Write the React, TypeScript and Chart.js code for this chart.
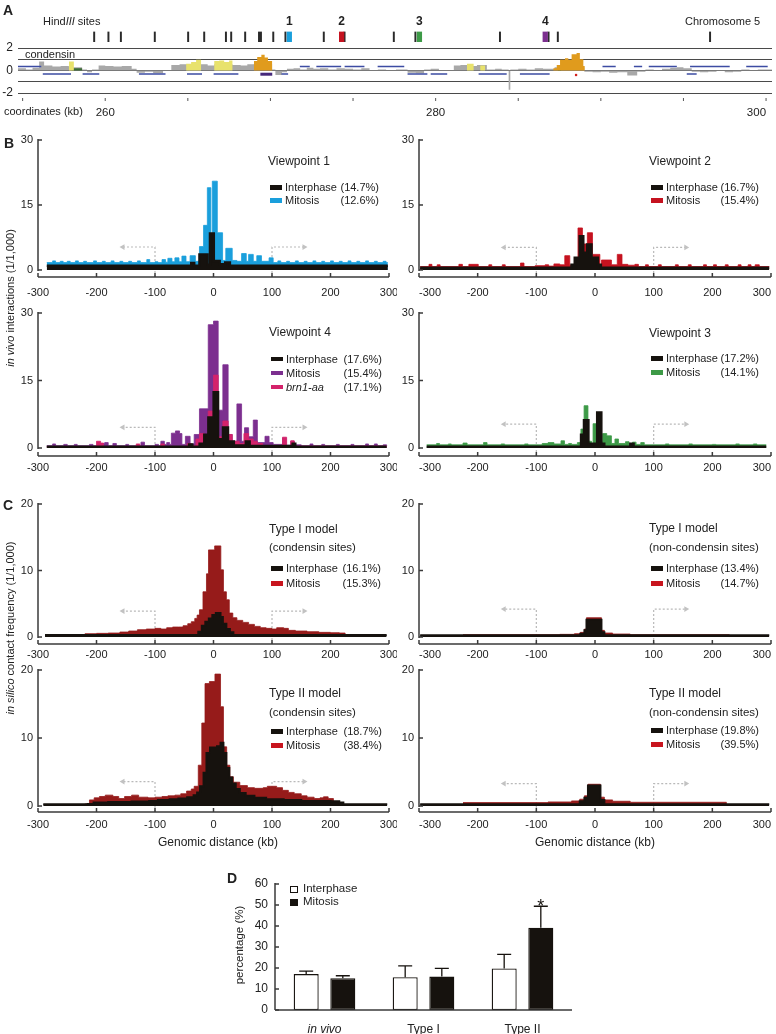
import React, { useEffect, useRef } from 'react';
import { Chart, registerables } from 'chart.js';

Chart.register(...registerables);

type Pair = [number, number];
type Seg = [number, number];

const FONT = '"Liberation Sans", Arial, Helvetica, sans-serif';
const INK = '#16120e';
const AXIS = '#3a3a3a';
const BRACKET = '#b9b9b9';
const BLUE = '#1a9fdc';
const RED = '#c5121f';
const PURPLE = '#7c2f8f';
const MAGENTA = '#d4236b';
const GREEN = '#3d9a47';
const CRED = '#961b1a';
const CRED_KEY = '#c8141e';

// ---------------- Panel A ----------------
const coordLabels = [260, 280, 300];
const trackYLabels = [2, 0, -2];
const hindIIISites = [255.66, 256.69, 257.59, 260.04, 262.45, 263.61, 265.18, 265.56, 266.57, 267.57, 267.71, 268.6, 269.48, 272.25, 273.75, 277.31, 278.87, 284.98, 288.49, 289.16, 300.16];
const viewpointSites = [269.76, 273.54, 279.16, 288.25];
const viewpointNames = ['1', '2', '3', '4'];
const viewpointColors = [BLUE, RED, GREEN, PURPLE];

const condensinGray: Pair[] = [[254.72,0.2],[255.2,0.1],[255.6,0.25],[256.0,0.8],[256.3,0.45],[256.8,0.35],[257.3,0.4],[257.8,0.3],[258.6,0.1],[258.9,-0.15],[259.2,0.1],[259.6,0.45],[260.0,0.4],[260.5,0.35],[261.0,0.4],[261.6,0.15],[261.9,-0.2],[262.4,-0.1],[262.9,-0.25],[263.5,0.05],[264.0,0.5],[264.5,0.55],[265.8,0.55],[266.2,0.45],[266.6,0.55],[267.7,0.5],[268.2,0.45],[268.6,0.55],[269.0,0.6],[270.1,0.1],[270.3,-0.4],[270.7,-0.15],[271.0,0.15],[271.4,0.2],[271.8,0.1],[272.2,0.25],[272.6,0.15],[273.0,0.2],[273.5,0.1],[274.0,0.2],[274.5,0.15],[275.0,0.1],[275.5,0.2],[276.0,0.05],[276.5,0.1],[277.0,0.05],[277.6,0.1],[278.3,-0.2],[278.8,-0.25],[279.3,0.1],[279.7,0.15],[280.2,0.05],[281.1,0.45],[281.5,0.5],[282.0,0.4],[282.5,0.5],[283.1,0.1],[283.6,0.15],[284.0,0.1],[284.42,-1.7],[284.52,0.1],[285.0,0.15],[285.5,0.1],[286.0,0.2],[286.5,0.15],[287.2,0.3],[289.0,-0.1],[289.5,-0.15],[290.0,-0.1],[290.5,-0.2],[291.0,-0.15],[291.6,-0.45],[292.2,-0.1],[292.7,0.1],[293.2,0.05],[293.7,0.15],[294.2,0.25],[294.6,0.3],[295.0,0.2],[295.5,-0.1],[296.0,-0.15],[296.5,-0.1],[297.0,-0.05],[297.5,-0.15],[298.0,-0.1],[298.5,0.1],[299.0,-0.05],[299.5,0.1],[300.36,0.1]];
const condensinYellow: Pair[] = [[257.8,0.8],[258.1,0],[264.9,0.6],[265.2,0.75],[265.5,0.95],[265.8,0],[266.6,0.85],[266.9,0.9],[267.2,0.75],[267.5,0.9],[267.7,0],[281.9,0.6],[282.3,0],[282.7,0.45],[283.0,0]];
const condensinOrange: Pair[] = [[269.0,0.85],[269.2,1.2],[269.45,1.4],[269.65,1.15],[269.85,0.85],[270.1,0],[287.13,0.2],[287.33,0.5],[287.53,0.95],[287.83,1.1],[288.03,0.95],[288.23,1.45],[288.53,1.55],[288.73,1.0],[288.94,0.4],[289.03,0]];
const condensinGreen: Pair[] = [[257.95,0.2],[258.6,0],[287.4,0.12],[287.6,0]];
const bindingUpper: Seg[] = [[254.72,256.13],[271.78,272.38],[272.78,274.28],[274.49,275.69],[276.49,278.1],[290.1,290.9],[292.0,292.5],[292.9,294.6],[295.4,297.8],[298.8,300.1]];
const bindingLower: Seg[] = [[256.22,257.93],[258.63,259.64],[262.04,263.65],[264.95,265.86],[266.56,268.06],[270.67,271.07],[278.3,279.5],[279.7,280.7],[282.6,284.3],[285.1,286.9],[295.2,295.8]];
const bindingPurple: Seg[] = [[269.39, 270.11]];
const bindingRed: Pair[] = [[288.5, -0.4]];

// ---------------- Panel B ----------------
const vp1Mitosis: Pair[] = [[-285,1.7],[-275,2.1],[-270,1.7],[-262,2.0],[-257,1.7],[-250,2.0],[-245,1.7],[-236,2.1],[-231,1.7],[-222,2.0],[-217,1.7],[-205,2.1],[-200,1.7],[-190,2.0],[-185,1.7],[-175,2.1],[-170,1.7],[-160,2.0],[-155,1.7],[-145,2.0],[-140,1.7],[-130,2.1],[-125,1.7],[-114,2.4],[-109,1.7],[-100,1.9],[-95,1.7],[-88,2.4],[-82,1.8],[-78,2.7],[-71,1.9],[-66,2.8],[-59,1.9],[-54,3.2],[-47,1.9],[-40,3.3],[-31,2.0],[-24,5.4],[-17,10.3],[-10.5,19.0],[-4.5,7.0],[-2,20.5],[6.5,8.6],[15.5,2.2],[21,5.0],[32,2.2],[40,2.0],[48,3.8],[56,2.0],[60,3.6],[68,2.0],[74,3.3],[82,2.0],[95,2.8],[102,1.7],[110,2.1],[115,1.7],[125,2.0],[130,1.7],[140,2.1],[145,1.7],[155,2.0],[160,1.7],[170,2.1],[175,1.7],[185,2.0],[190,1.7],[200,2.1],[205,1.7],[215,2.0],[220,1.7],[230,2.1],[235,1.7],[245,2.0],[250,1.7],[260,2.1],[265,1.7],[275,2.0],[280,1.7],[290,2.0],[295,1.7],[298,1.7]];
const vp1Interphase: Pair[] = [[-285,1.0],[-38,1.6],[-33,1.0],[-24,3.6],[-10.5,1.2],[-6,8.4],[0.5,2.1],[10.5,1.3],[20,1.7],[28,1.0],[298,1.0]];
const vp2Mitosis: Pair[] = [[-298,0.8],[-283,1.3],[-278,0.8],[-269,1.2],[-264,0.8],[-232,1.3],[-226,0.8],[-215,1.3],[-199,0.8],[-181,1.2],[-176,0.8],[-158,1.2],[-153,0.8],[-127,1.6],[-121,0.8],[-102,1.0],[-85,1.2],[-79,0.9],[-70,1.4],[-60,1.2],[-51.5,3.3],[-43,1.1],[-34,1.5],[-29,9.7],[-21.4,6.0],[-13,8.6],[-4.3,3.6],[8.3,1.2],[11,2.3],[28,1.2],[38,3.6],[46,1.3],[56,1.1],[68,1.3],[74,0.8],[86,1.2],[91,0.8],[108,1.2],[113,0.8],[137,1.2],[142,0.8],[159,1.2],[164,0.8],[185,1.2],[190,0.8],[202,1.2],[207,0.8],[222,1.2],[227,0.8],[244,1.2],[249,0.8],[261,1.2],[266,0.8],[273,1.2],[280,0.8],[297,0.8]];
const vp2Interphase: Pair[] = [[-298,0.5],[-40,1.2],[-34.5,2.8],[-26,7.8],[-20,4.0],[-13.5,5.9],[-6,2.8],[5,1.2],[10,0.5],[297,0.5]];
const vp4Mitosis: Pair[] = [[-285,0.5],[-275,0.9],[-270,0.5],[-256,0.8],[-250,0.5],[-238,0.8],[-233,0.5],[-212,0.8],[-206,0.5],[-192,1.0],[-186,1.2],[-180,0.5],[-172,1.0],[-166,0.5],[-150,0.8],[-145,0.5],[-124,1.3],[-118,0.5],[-100,0.8],[-94,0.5],[-90,1.5],[-84,0.8],[-80,1.2],[-75,0.8],[-72,3.3],[-65,3.8],[-58,3.2],[-54,0.8],[-48,2.6],[-40,0.9],[-33,3.0],[-24,8.7],[-9,27.4],[0,28.2],[8,8.4],[16,18.5],[25,3.0],[32,1.5],[40,9.8],[48,1.5],[53,4.5],[60,2.5],[68,6.2],[75,1.2],[88,2.6],[95,1.2],[102,0.8],[118,2.2],[124,0.6],[132,1.5],[138,0.7],[150,0.5],[165,0.9],[170,0.5],[185,0.8],[190,0.5],[210,0.8],[215,0.5],[235,0.8],[240,0.5],[260,0.9],[265,0.5],[275,0.9],[280,0.5],[290,0.7],[296,0.5]];
const vp4Brn1: Pair[] = [[-285,0.3],[-200,1.5],[-193,1.1],[-188,0.3],[-132,0.9],[-126,0.3],[-90,0.9],[-84,0.3],[-45,1.0],[-38,0.5],[-30,2.0],[-24,3.2],[-16,1.0],[-9,8.2],[0,16.2],[8,2.5],[16,6.0],[25,3.0],[32,1.5],[44,1.0],[52,3.2],[60,2.0],[68,1.5],[75,1.0],[84,0.4],[118,2.4],[125,0.4],[132,1.6],[138,0.4],[296,0.4]];
const vp4Interphase: Pair[] = [[-285,0.3],[-42,0.8],[-36,0.3],[-24,1.0],[-16,3.0],[-9,6.8],[0,12.4],[8,2.0],[16,4.6],[25,1.5],[35,0.6],[55,1.5],[62,0.5],[135,1.0],[140,0.3],[296,0.3]];
const vp3Mitosis: Pair[] = [[-287,0.7],[-270,1.0],[-265,0.7],[-250,0.9],[-245,0.7],[-225,1.1],[-218,0.7],[-190,1.2],[-184,0.7],[-160,0.9],[-154,0.7],[-120,0.9],[-114,0.7],[-90,1.0],[-80,1.2],[-70,0.9],[-58,1.6],[-52,0.8],[-45,1.0],[-40,0.8],[-30,1.2],[-24,4.2],[-18.6,9.4],[-12,1.5],[-6,1.0],[-3.3,5.4],[3.5,1.5],[13,3.2],[20,2.7],[28,1.0],[34,2.0],[40,1.0],[52,1.4],[58,1.0],[64,1.3],[70,0.8],[78,1.2],[84,0.7],[120,0.9],[126,0.7],[160,0.9],[166,0.7],[200,0.8],[206,0.7],[240,0.9],[246,0.7],[270,0.9],[276,0.7],[292,0.7]];
const vp3Interphase: Pair[] = [[-287,0.3],[-24,3.0],[-19,6.2],[-11,1.0],[3.5,7.9],[11,1.0],[16,0.3],[60,1.0],[66,0.3],[292,0.3]];

// ---------------- Panel C ----------------
const typeICondMitosis: Pair[] = [[-220,0.5],[-200,0.55],[-180,0.6],[-160,0.75],[-145,0.9],[-130,1.1],[-115,1.2],[-100,1.3],[-90,1.2],[-80,1.4],[-70,1.5],[-60,1.5],[-52,1.7],[-44,2.0],[-38,2.3],[-32,2.8],[-28,3.3],[-24,4.1],[-18,6.8],[-12,9.5],[-8.5,13.1],[2,13.7],[12.5,10.1],[17,6.8],[22,5.6],[27,3.6],[33,2.9],[40,2.5],[50,2.2],[60,1.9],[70,1.6],[80,1.4],[90,1.3],[100,1.2],[108,1.4],[120,1.3],[128,1.0],[140,0.9],[160,0.8],[180,0.7],[200,0.65],[215,0.6],[225,0]];
const typeICondInterphase: Pair[] = [[-288,0.3],[-26,0.8],[-20,1.7],[-14,2.3],[-8,2.8],[-2,3.3],[4,3.6],[12,3.0],[16,2.0],[22,1.2],[28,0.7],[34,0.3],[296,0.3]];
const typeINonMitosis: Pair[] = [[-225,0.35],[-60,0.4],[-35,0.5],[-25,0.7],[-18,1.2],[-14.5,2.9],[11,1.0],[16,0.6],[30,0.45],[60,0.35],[229,0]];
const typeINonInterphase: Pair[] = [[-298,0.25],[-25,0.5],[-18,1.0],[-14.5,2.6],[11,0.7],[16,0.25],[297,0.25]];
const typeIICondMitosis: Pair[] = [[-220,0.3],[-212,0.9],[-204,1.2],[-195,1.4],[-185,1.6],[-172,1.4],[-162,1.1],[-152,1.4],[-140,1.6],[-128,1.3],[-112,1.2],[-100,1.3],[-88,1.4],[-78,1.5],[-66,1.6],[-56,1.8],[-46,2.2],[-38,2.5],[-33,2.9],[-26,6.0],[-20,12.2],[-14.5,18.0],[-7,18.3],[2.5,19.4],[12,14.6],[17,8.7],[22.5,6.0],[28,4.3],[34,3.5],[45,3.0],[58,2.7],[70,2.6],[85,2.7],[92,2.9],[108,2.7],[118,2.3],[128,2.0],[138,1.8],[150,1.5],[160,1.3],[172,1.1],[182,1.2],[188,1.35],[196,1.1],[205,0.6],[213,0.2],[222,0]];
const typeIICondInterphase: Pair[] = [[-291,0.25],[-215,0.3],[-205,0.5],[-180,0.6],[-140,0.65],[-110,0.75],[-95,0.9],[-75,1.0],[-60,1.1],[-45,1.3],[-34,1.6],[-28,2.0],[-23,2.9],[-17,4.9],[-12,7.8],[-6,8.6],[6,8.8],[12,9.3],[17,7.8],[22,5.6],[27,4.2],[32,3.3],[38,2.5],[45,1.9],[55,1.5],[70,1.2],[90,1.0],[120,0.9],[150,0.75],[200,0.7],[215,0.5],[222,0.25],[297,0.25]];
const typeIINonMitosis: Pair[] = [[-225,0.5],[-80,0.6],[-40,0.75],[-26,1.0],[-18,1.5],[-12,3.2],[9.3,1.3],[16,0.9],[30,0.7],[60,0.55],[224,0]];
const typeIINonInterphase: Pair[] = [[-298,0.25],[-26,0.7],[-18,1.2],[-12,3.0],[9.3,0.9],[16,0.25],[297,0.25]];

// ---------------- Panel D ----------------
const dCategories = ['in vivo', 'Type I', 'Type II'];
const dInterphase = [17.1, 15.6, 19.8];
const dInterphaseErr = [1.4, 5.4, 6.7];
const dMitosis = [15.1, 15.9, 39.2];
const dMitosisErr = [1.2, 3.9, 10.2];

// ---------------- plugins ----------------
const framePlugin = {
  id: 'frame',
  afterDatasetsDraw(chart: any, _args: any, opts: any) {
    const { ctx, chartArea: a, scales } = chart;
    const xs = scales.x;
    const ys = scales.y;
    ctx.save();
    ctx.strokeStyle = AXIS;
    ctx.lineWidth = 1.5;
    const tl = 4;
    if (opts.yAxis) {
      const top = ys.getPixelForValue(ys.max) - 1;
      const bot = opts.yEnd != null ? ys.getPixelForValue(opts.yEnd) + 1 : a.bottom;
      ctx.beginPath();
      ctx.moveTo(a.left, top);
      ctx.lineTo(a.left, bot);
      ctx.stroke();
      ys.ticks.forEach((t: any) => {
        const p = ys.getPixelForValue(t.value);
        ctx.beginPath();
        ctx.moveTo(a.left, p);
        ctx.lineTo(a.left + tl, p);
        ctx.stroke();
      });
    }
    if (opts.xAxis) {
      ctx.beginPath();
      ctx.moveTo(a.left, a.bottom);
      ctx.lineTo(a.right, a.bottom);
      ctx.stroke();
      if (opts.xTicks) {
        xs.ticks.forEach((t: any) => {
          const p = xs.getPixelForValue(t.value);
          ctx.beginPath();
          ctx.moveTo(p, a.bottom);
          ctx.lineTo(p, a.bottom - tl);
          ctx.stroke();
        });
      }
    }
    if (opts.xMarks) {
      ctx.lineWidth = 1;
      ctx.strokeStyle = '#555';
      xs.ticks.forEach((t: any) => {
        const p = xs.getPixelForValue(t.value);
        ctx.beginPath();
        ctx.moveTo(p, a.bottom + 5);
        ctx.lineTo(p, a.bottom + 8);
        ctx.stroke();
      });
    }
    ctx.restore();
  },
};

const siteLabelPlugin = {
  id: 'siteLabels',
  afterDatasetsDraw(chart: any) {
    const { ctx, chartArea, scales } = chart;
    ctx.save();
    ctx.font = `bold 12px ${FONT}`;
    ctx.fillStyle = '#222';
    ctx.textAlign = 'center';
    ctx.textBaseline = 'middle';
    viewpointSites.forEach((kb, i) => {
      ctx.fillText(viewpointNames[i], scales.x.getPixelForValue(kb), chartArea.top - 10);
    });
    ctx.restore();
  },
};

const errorBarPlugin = {
  id: 'errorBars',
  afterDatasetsDraw(chart: any, _args: any, opts: any) {
    const ys = chart.scales.y;
    const ctx = chart.ctx;
    const errs: number[][] = opts.errors;
    ctx.save();
    ctx.strokeStyle = INK;
    ctx.lineWidth = 1.3;
    chart.data.datasets.forEach((ds: any, i: number) => {
      const meta = chart.getDatasetMeta(i);
      meta.data.forEach((bar: any, j: number) => {
        const top = ys.getPixelForValue(ds.data[j] + errs[i][j]);
        ctx.beginPath();
        ctx.moveTo(bar.x, bar.y);
        ctx.lineTo(bar.x, top);
        ctx.moveTo(bar.x - 7, top);
        ctx.lineTo(bar.x + 7, top);
        ctx.stroke();
      });
    });
    const m = opts.mark;
    if (m) {
      const bar = chart.getDatasetMeta(m.dataset).data[m.index];
      const v = chart.data.datasets[m.dataset].data[m.index] + errs[m.dataset][m.index];
      ctx.fillStyle = INK;
      ctx.font = `18px ${FONT}`;
      ctx.textAlign = 'center';
      ctx.textBaseline = 'alphabetic';
      ctx.fillText(m.text, bar.x, ys.getPixelForValue(v) + 6);
    }
    ctx.restore();
  },
};

// ---------------- builders ----------------
const xy = (pairs: Pair[]) => pairs.map(([x, y]) => ({ x, y }));
const segData = (segs: Seg[], y: number) => {
  const out: any[] = [];
  segs.forEach(([a, b]) => {
    out.push({ x: a, y }, { x: b, y }, { x: b, y: null });
  });
  return out;
};

// each pair = [left edge of a bin, value held until the next pair]
const stepArea = (pairs: Pair[], color: string, order: number, border = 0.8) => ({
  type: 'line',
  data: xy(pairs),
  stepped: 'before',
  fill: 'origin',
  backgroundColor: color,
  borderColor: color,
  borderWidth: border,
  pointRadius: 0,
  order,
});

const bracketSet = (side: number, h: number, ymin: number) => ({
  type: 'line',
  data: [
    { x: side * 100, y: ymin },
    { x: side * 100, y: h },
    { x: side * 155, y: h },
  ],
  borderColor: BRACKET,
  borderDash: [2, 2],
  borderWidth: 1.2,
  fill: false,
  stepped: false,
  pointRadius: [0, 0, 3.3],
  pointStyle: 'triangle',
  pointRotation: side < 0 ? -90 : 90,
  pointBackgroundColor: '#c2c2c2',
  pointBorderWidth: 0,
  order: 20,
});

const tickFont = (size: number) => ({ family: FONT, size });

type Series = { d: Pair[]; c: string; w?: number };
type Geo = { L: number; R: number; T: number; B: number; ymin: number; ymax: number; step: number; xPad: number; align: string; h: number; series: Series[] };

const PROFILES: Geo[] = [
  { L: 38, R: 389, T: 140, B: 277, ymin: -1.62, ymax: 30, step: 15, xPad: 9, align: 'center', h: 5.3, series: [{ d: vp1Mitosis, c: BLUE }, { d: vp1Interphase, c: INK, w: 2.5 }] },
  { L: 419, R: 771, T: 140, B: 277, ymin: -1.62, ymax: 30, step: 15, xPad: 9, align: 'inner', h: 5.2, series: [{ d: vp2Mitosis, c: RED }, { d: vp2Interphase, c: INK, w: 2.5 }] },
  { L: 38, R: 389, T: 313, B: 456, ymin: -1.78, ymax: 30, step: 15, xPad: 5, align: 'center', h: 4.6, series: [{ d: vp4Mitosis, c: PURPLE }, { d: vp4Brn1, c: MAGENTA }, { d: vp4Interphase, c: INK, w: 2.2 }] },
  { L: 419, R: 771, T: 313, B: 456, ymin: -1.78, ymax: 30, step: 15, xPad: 5, align: 'inner', h: 5.3, series: [{ d: vp3Mitosis, c: GREEN }, { d: vp3Interphase, c: INK, w: 2.2 }] },
  { L: 38, R: 389, T: 504, B: 644, ymin: -1.05, ymax: 20, step: 10, xPad: 4, align: 'center', h: 3.9, series: [{ d: typeICondMitosis, c: CRED }, { d: typeICondInterphase, c: INK, w: 2 }] },
  { L: 419, R: 771, T: 504, B: 644, ymin: -1.05, ymax: 20, step: 10, xPad: 4, align: 'inner', h: 4.2, series: [{ d: typeINonMitosis, c: CRED }, { d: typeINonInterphase, c: INK, w: 2 }] },
  { L: 38, R: 389, T: 670, B: 812, ymin: -0.88, ymax: 20, step: 10, xPad: 6.5, align: 'center', h: 3.6, series: [{ d: typeIICondMitosis, c: CRED }, { d: typeIICondInterphase, c: INK, w: 2 }] },
  { L: 419, R: 771, T: 670, B: 812, ymin: -0.88, ymax: 20, step: 10, xPad: 6.5, align: 'inner', h: 3.3, series: [{ d: typeIINonMitosis, c: CRED }, { d: typeIINonInterphase, c: INK, w: 2 }] },
];

const baseOptions = (padding: any) => ({
  animation: false,
  responsive: false,
  maintainAspectRatio: false,
  devicePixelRatio: 1,
  layout: { padding },
  plugins: { legend: { display: false }, tooltip: { enabled: false } },
  elements: { point: { radius: 0 }, line: { tension: 0 } },
});

function profileChart(g: Geo) {
  const n = g.series.length;
  const datasets: any[] = g.series.map((s, i) => stepArea(s.d, s.c, n - i, s.w ?? 0.8));
  datasets.push(bracketSet(-1, g.h, g.ymin), bracketSet(1, g.h, g.ymin));
  const opts: any = baseOptions({ left: 0, top: 8, right: 8, bottom: 0 });
  opts.plugins.frame = { yAxis: true, yEnd: 0, xAxis: true, xTicks: true };
  opts.scales = {
    x: {
      type: 'linear', min: -300, max: 300,
      ticks: { stepSize: 100, autoSkip: false, maxRotation: 0, padding: g.xPad, align: g.align, font: tickFont(11), color: '#222' },
      grid: { display: false, drawTicks: false }, border: { display: false },
      afterFit: (s: any) => { s.height = 30; s.paddingLeft = 0; s.paddingRight = 0; },
    },
    y: {
      type: 'linear', min: g.ymin, max: g.ymax,
      ticks: { stepSize: g.step, includeBounds: false, autoSkip: false, padding: 5, font: tickFont(11), color: '#222' },
      grid: { display: false, drawTicks: false }, border: { display: false },
      afterFit: (s: any) => { s.width = 40; s.paddingTop = 0; s.paddingBottom = 0; },
    },
  };
  return {
    x: g.L - 40, y: g.T - 8, w: g.R - g.L + 48, h: g.B - g.T + 38,
    config: () => ({ type: 'line', data: { datasets }, options: opts, plugins: [framePlugin] }),
  };
}

const TRACK_MIN = 254.72;
const TRACK_MAX = 300.36;

const sitesChart = {
  x: 0, y: 14, w: 776, h: 28,
  config: () => {
    const opts: any = baseOptions({ left: 18, top: 17.5, right: 0, bottom: 0 });
    opts.scales = {
      x: { type: 'linear', display: false, min: TRACK_MIN, max: TRACK_MAX },
      y: { display: false, min: 0, max: 1 },
    };
    return {
      type: 'bar',
      data: {
        datasets: [
          { data: hindIIISites.map((x) => ({ x, y: [0, 1] })), backgroundColor: '#2a2a2a', barThickness: 1.3, grouped: false, order: 1 },
          { data: viewpointSites.map((x) => ({ x, y: [0, 1] })), backgroundColor: viewpointColors, barThickness: 4.6, grouped: false, order: 0 },
        ],
      },
      options: opts,
      plugins: [siteLabelPlugin],
    };
  },
};

const trackChart = {
  x: 0, y: 42, w: 776, h: 76,
  config: () => {
    const opts: any = baseOptions({ left: 0, top: 6, right: 0, bottom: 0 });
    opts.plugins.frame = { xMarks: true };
    opts.scales = {
      x: {
        type: 'linear', min: TRACK_MIN, max: TRACK_MAX,
        ticks: {
          stepSize: 5, includeBounds: false, autoSkip: false, maxRotation: 0, align: 'inner', padding: 13,
          font: tickFont(11.5), color: '#222',
          callback: (v: any) => (coordLabels.includes(v) ? String(v) : ''),
        },
        grid: { display: false, drawTicks: false }, border: { display: false },
        afterFit: (s: any) => { s.height = 25; s.paddingLeft = 0; s.paddingRight = 0; },
      },
      y: {
        type: 'linear', min: -2, max: 2,
        ticks: { stepSize: 1, autoSkip: false, padding: 5, font: tickFont(12), color: '#222', callback: (v: any) => (trackYLabels.includes(v) ? String(v) : '') },
        grid: { color: '#4a4a4a', lineWidth: 1, drawTicks: false }, border: { display: false },
        afterFit: (s: any) => { s.width = 18; s.paddingTop = 0; s.paddingBottom = 0; },
      },
    };
    const datasets: any[] = [
      { type: 'line', data: segData(bindingPurple, -0.33), borderColor: '#45287a', borderWidth: 3, pointRadius: 0, fill: false, spanGaps: false, order: 0 },
      { type: 'line', data: xy(bindingRed), showLine: false, pointRadius: 1.6, pointStyle: 'rect', pointBackgroundColor: '#d3201e', pointBorderWidth: 0, order: 0 },
      { type: 'line', data: segData(bindingUpper, 0.36), borderColor: '#3d4ca3', borderWidth: 1.5, pointRadius: 0, fill: false, spanGaps: false, order: 1 },
      { type: 'line', data: segData(bindingLower, -0.3), borderColor: '#3d4ca3', borderWidth: 1.5, pointRadius: 0, fill: false, spanGaps: false, order: 1 },
      stepArea(condensinOrange, '#e09b1d', 2, 0),
      stepArea(condensinYellow, '#e8e26c', 3, 0),
      stepArea(condensinGreen, '#3b6b35', 3, 0),
      stepArea(condensinGray, '#a8a8a8', 4, 0),
    ];
    return { type: 'line', data: { datasets }, options: opts, plugins: [framePlugin] };
  },
};

const barChart = {
  x: 235, y: 878, w: 343, h: 162,
  config: () => {
    const opts: any = baseOptions({ left: 0, top: 6, right: 6, bottom: 0 });
    opts.plugins.frame = { yAxis: true, xAxis: true, xTicks: false };
    opts.plugins.errorBars = { errors: [dInterphaseErr, dMitosisErr], mark: { dataset: 1, index: 2, text: '*' } };
    opts.scales = {
      x: {
        type: 'category',
        ticks: {
          padding: 12, color: '#222',
          font: (c: any) => ({ family: FONT, size: 12, style: c.index === 0 ? 'italic' : 'normal' }),
        },
        grid: { display: false, drawTicks: false }, border: { display: false },
        afterFit: (s: any) => { s.height = 30; s.paddingLeft = 0; s.paddingRight = 0; },
      },
      y: {
        type: 'linear', min: 0, max: 60,
        ticks: { stepSize: 10, padding: 7, font: tickFont(12), color: '#222' },
        grid: { display: false, drawTicks: false }, border: { display: false },
        afterFit: (s: any) => { s.width = 40; s.paddingTop = 0; s.paddingBottom = 0; },
      },
    };
    const common = { borderColor: INK, borderWidth: 1.3, borderSkipped: false, categoryPercentage: 0.74, barPercentage: 0.683 };
    return {
      type: 'bar',
      data: {
        labels: dCategories,
        datasets: [
          { label: 'Interphase', data: dInterphase, backgroundColor: '#ffffff', ...common },
          { label: 'Mitosis', data: dMitosis, backgroundColor: INK, ...common },
        ],
      },
      options: opts,
      plugins: [framePlugin, errorBarPlugin],
    };
  },
};

const CHARTS = [sitesChart, trackChart, ...PROFILES.map(profileChart), barChart];

// ---------------- text helpers ----------------
function Txt(p: { x: number; y: number; size?: number; align?: 'left' | 'center' | 'right'; bold?: boolean; rotate?: boolean; children: React.ReactNode }) {
  const size = p.size ?? 11;
  const tx = p.align === 'center' ? '-50%' : p.align === 'right' ? '-100%' : '0';
  return (
    <div
      style={{
        position: 'absolute', left: p.x, top: p.y, fontSize: size, lineHeight: `${size}px`, whiteSpace: 'nowrap',
        fontWeight: p.bold ? 700 : 400,
        transform: p.rotate ? 'translate(-50%,-50%) rotate(-90deg)' : `translate(${tx},-50%)`,
      }}
    >
      {p.children}
    </div>
  );
}

type LegendRow = { y: number; color: string; name: React.ReactNode; pct: string };
type LegendSpec = { x: number; right: number; title: string; ty: number; sub?: string; sy?: number; rows: LegendRow[] };

const LEGENDS: LegendSpec[] = [
  { x: 268, right: 379, title: 'Viewpoint 1', ty: 161, rows: [{ y: 187, color: INK, name: 'Interphase', pct: '(14.7%)' }, { y: 200, color: BLUE, name: 'Mitosis', pct: '(12.6%)' }] },
  { x: 649, right: 759, title: 'Viewpoint 2', ty: 161, rows: [{ y: 187, color: INK, name: 'Interphase', pct: '(16.7%)' }, { y: 200, color: RED, name: 'Mitosis', pct: '(15.4%)' }] },
  { x: 269, right: 382, title: 'Viewpoint 4', ty: 332, rows: [{ y: 358.5, color: INK, name: 'Interphase', pct: '(17.6%)' }, { y: 372.5, color: PURPLE, name: 'Mitosis', pct: '(15.4%)' }, { y: 386.5, color: MAGENTA, name: <i>brn1-aa</i>, pct: '(17.1%)' }] },
  { x: 649, right: 759, title: 'Viewpoint 3', ty: 333, rows: [{ y: 358, color: INK, name: 'Interphase', pct: '(17.2%)' }, { y: 372, color: GREEN, name: 'Mitosis', pct: '(14.1%)' }] },
  { x: 269, right: 381, title: 'Type I model', ty: 529, sub: '(condensin sites)', sy: 548, rows: [{ y: 568, color: INK, name: 'Interphase', pct: '(16.1%)' }, { y: 583, color: CRED_KEY, name: 'Mitosis', pct: '(15.3%)' }] },
  { x: 649, right: 759, title: 'Type I model', ty: 528, sub: '(non-condensin sites)', sy: 548, rows: [{ y: 568, color: INK, name: 'Interphase', pct: '(13.4%)' }, { y: 583, color: CRED_KEY, name: 'Mitosis', pct: '(14.7%)' }] },
  { x: 269, right: 382, title: 'Type II model', ty: 693, sub: '(condensin sites)', sy: 713, rows: [{ y: 731, color: INK, name: 'Interphase', pct: '(18.7%)' }, { y: 745, color: CRED_KEY, name: 'Mitosis', pct: '(38.4%)' }] },
  { x: 649, right: 759, title: 'Type II model', ty: 693, sub: '(non-condensin sites)', sy: 713, rows: [{ y: 730, color: INK, name: 'Interphase', pct: '(19.8%)' }, { y: 744, color: CRED_KEY, name: 'Mitosis', pct: '(39.5%)' }] },
];

function Legend({ s }: { s: LegendSpec }) {
  return (
    <>
      <Txt x={s.x} y={s.ty} size={12}>{s.title}</Txt>
      {s.sub ? <Txt x={s.x} y={s.sy!} size={11.5}>{s.sub}</Txt> : null}
      {s.rows.map((r, i) => (
        <React.Fragment key={i}>
          <div style={{ position: 'absolute', left: s.x + 2, top: r.y - 2, width: 12, height: 4.5, background: r.color }} />
          <Txt x={s.x + 17} y={r.y}>{r.name}</Txt>
          <Txt x={s.right} y={r.y} align="right">{r.pct}</Txt>
        </React.Fragment>
      ))}
    </>
  );
}

export default function App() {
  const refs = useRef<(HTMLCanvasElement | null)[]>([]);
  useEffect(() => {
    const charts = CHARTS.map((c, i) => new Chart(refs.current[i] as HTMLCanvasElement, c.config() as any));
    return () => charts.forEach((c) => c.destroy());
  }, []);

  return (
    <div style={{ position: 'absolute', left: 0, top: 0, width: 776, height: 1034, overflow: 'hidden', background: '#fff', fontFamily: FONT, color: '#222' }}>
      {CHARTS.map((c, i) => (
        <canvas
          key={i}
          ref={(el) => { refs.current[i] = el; }}
          width={c.w}
          height={c.h}
          style={{ position: 'absolute', left: c.x, top: c.y, width: c.w, height: c.h }}
        />
      ))}

      {/* Panel A */}
      <Txt x={3} y={10} size={14} bold>A</Txt>
      <Txt x={43} y={21}>Hind<i>III</i> sites</Txt>
      <Txt x={685} y={21}>Chromosome 5</Txt>
      <Txt x={25} y={54}>condensin</Txt>
      <Txt x={4} y={111}>coordinates (kb)</Txt>

      {/* Panel B / C labels */}
      <Txt x={4} y={143} size={14} bold>B</Txt>
      <Txt x={3} y={505} size={14} bold>C</Txt>
      <Txt x={10} y={298} size={11} rotate><i>in vivo</i> interactions (1/1,000)</Txt>
      <Txt x={10} y={628} size={11} rotate><i>in silico</i> contact frequency (1/1,000)</Txt>
      <Txt x={218} y={842} size={12} align="center">Genomic distance (kb)</Txt>
      <Txt x={595} y={842} size={12} align="center">Genomic distance (kb)</Txt>
      {LEGENDS.map((s, i) => <Legend key={i} s={s} />)}

      {/* Panel D */}
      <Txt x={227} y={878} size={14} bold>D</Txt>
      <Txt x={240} y={945} size={11.5} rotate>percentage (%)</Txt>
      <div style={{ position: 'absolute', left: 290, top: 885.5, width: 8, height: 7, border: `1.2px solid ${INK}`, background: '#fff', boxSizing: 'border-box' }} />
      <Txt x={303} y={889} size={11.5}>Interphase</Txt>
      <div style={{ position: 'absolute', left: 290, top: 898.5, width: 8, height: 7, background: INK }} />
      <Txt x={303} y={902} size={11.5}>Mitosis</Txt>
    </div>
  );
}
